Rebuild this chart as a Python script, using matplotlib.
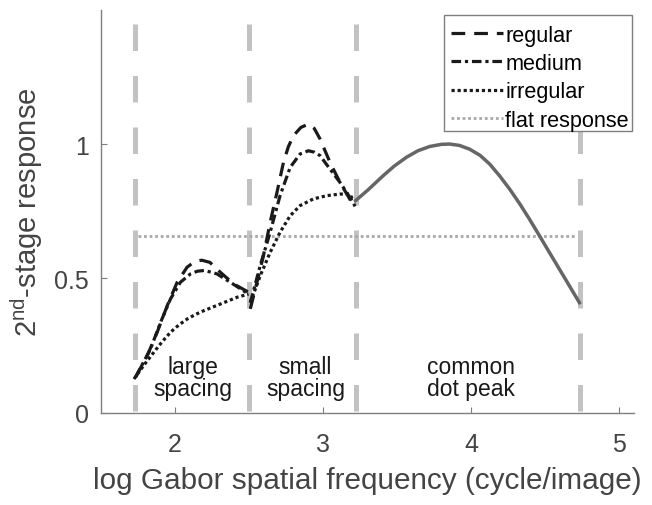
import matplotlib
matplotlib.use('Agg')
import matplotlib.pyplot as plt
from matplotlib.patches import Rectangle

plt.rcParams['font.family'] = ['Liberation Sans', 'DejaVu Sans']
plt.rcParams['mathtext.default'] = 'regular'

# region borders and flat level
border_x = [1.728, 2.499, 3.221, 4.737]
flat_x = [1.748, 4.70]
flat_y = [0.658, 0.658]

# large spacing segment
large_x_reg = [1.733, 1.812, 1.879, 1.947, 2.014, 2.081, 2.13, 2.18, 2.235, 2.306, 2.395, 2.496]
large_y_reg = [0.133, 0.213, 0.300, 0.399, 0.486, 0.542, 0.562, 0.568, 0.560, 0.523, 0.480, 0.449]
large_x_med = [1.733, 1.834, 1.902, 1.969, 2.036, 2.104, 2.15, 2.20, 2.283, 2.373, 2.496]
large_y_med = [0.133, 0.238, 0.337, 0.424, 0.486, 0.517, 0.527, 0.530, 0.517, 0.486, 0.442]
large_x_irr = [1.722, 1.790, 1.857, 1.913, 1.969, 2.025, 2.081, 2.137, 2.193, 2.306, 2.418, 2.496]
large_y_irr = [0.126, 0.178, 0.226, 0.265, 0.300, 0.327, 0.349, 0.366, 0.380, 0.405, 0.430, 0.442]

# small spacing segment
small_x_reg = [2.508, 2.553, 2.597, 2.642, 2.688, 2.732, 2.765, 2.799, 2.85, 2.90, 2.94, 2.979, 3.046, 3.113, 3.193, 3.215]
small_y_reg = [0.387, 0.486, 0.585, 0.709, 0.820, 0.932, 0.990, 1.031, 1.062, 1.074, 1.058, 1.019, 0.932, 0.858, 0.783, 0.771]
small_x_med = [2.508, 2.575, 2.642, 2.709, 2.777, 2.844, 2.90, 2.94, 2.979, 3.046, 3.113, 3.203, 3.215]
small_y_med = [0.410, 0.548, 0.672, 0.808, 0.913, 0.963, 0.975, 0.970, 0.957, 0.907, 0.858, 0.783, 0.768]
small_x_irr = [2.508, 2.575, 2.642, 2.709, 2.777, 2.844, 2.934, 3.024, 3.113, 3.181, 3.203]
small_y_irr = [0.410, 0.510, 0.597, 0.672, 0.733, 0.771, 0.796, 0.808, 0.814, 0.814, 0.789]

# common dot peak
peak_x = [3.22, 3.30, 3.405, 3.48, 3.563, 3.64, 3.72, 3.80, 3.855, 3.92, 3.989, 4.06,
          4.124, 4.19, 4.259, 4.33, 4.393, 4.46, 4.528, 4.59, 4.64, 4.731]
peak_y = [0.790, 0.828, 0.882, 0.918, 0.951, 0.975, 0.991, 0.999, 1.000, 0.995, 0.981, 0.958,
          0.926, 0.883, 0.833, 0.776, 0.721, 0.660, 0.597, 0.540, 0.494, 0.410]

region_labels = ['large\nspacing', 'small\nspacing', 'common\ndot peak']
region_label_x = [2.12, 2.88, 4.0]

dark = '#1a1a1a'
axis_gray = '#7f7f7f'
text_gray = '#444444'

fig = plt.figure(figsize=(6.52, 5.06), dpi=100)
ax = fig.add_axes([0.155, 0.182, 0.8175, 0.797])

for bx in border_x:
    ax.plot([bx, bx], [1.445, 0], color='#c2c2c2', lw=3.6, linestyle=(0, (5.3, 5)), zorder=1)

ax.plot(flat_x, flat_y, color='#a8a8a8', lw=2.0, linestyle=(0, (1, 1)), zorder=2)

ls_reg = (0, (4.3, 2.8))
ls_med = (0, (3, 1.2, 1, 1.2))
ls_irr = (0, (1, 0.9))
lw = 2.3

ax.plot(large_x_reg, large_y_reg, color=dark, lw=lw, linestyle=ls_reg, zorder=3)
ax.plot(large_x_med, large_y_med, color=dark, lw=lw, linestyle=ls_med, zorder=3)
ax.plot(large_x_irr, large_y_irr, color=dark, lw=lw, linestyle=ls_irr, zorder=3)
ax.plot(small_x_reg, small_y_reg, color=dark, lw=lw, linestyle=ls_reg, zorder=3, label='regular')
ax.plot(small_x_med, small_y_med, color=dark, lw=lw, linestyle=ls_med, zorder=3, label='medium')
ax.plot(small_x_irr, small_y_irr, color=dark, lw=lw, linestyle=ls_irr, zorder=3, label='irregular')
ax.plot([], [], color='#a8a8a8', lw=2.0, linestyle=(0, (1, 1)), label='flat response')
ax.plot(peak_x, peak_y, color='#666666', lw=2.5, zorder=3)

for lab, lx in zip(region_labels, region_label_x):
    ax.text(lx, 0.132, lab, ha='center', va='center', fontsize=16.5,
            color=dark, linespacing=0.95)

ax.set_xlim(1.5, 5.1)
ax.set_ylim(0, 1.5)
ax.set_xticks([2, 3, 4, 5])
ax.set_yticks([0, 0.5, 1])
ax.set_yticklabels(['0', '0.5', '1'])
ax.tick_params(direction='in', length=4, width=0.8, colors=axis_gray,
               labelcolor=text_gray, labelsize=18, pad=9)
ax.tick_params(axis='x', pad=14)
for s in ['top', 'right']:
    ax.spines[s].set_visible(False)
for s in ['left', 'bottom']:
    ax.spines[s].set_color(axis_gray)
    ax.spines[s].set_linewidth(1.0)

ax.set_xlabel('log Gabor spatial frequency (cycle/image)', fontsize=21.4, color=text_gray, labelpad=7)
ax.set_ylabel('2$^{nd}$-stage response', fontsize=21, color=text_gray, labelpad=6)

# legend box drawn separately so the entries can sit low in it, as in the original
box = Rectangle((0.6435, 0.700), 0.3527, 0.2876, transform=ax.transAxes,
                facecolor='white', edgecolor=axis_gray, lw=1.0, zorder=4, clip_on=False)
ax.add_patch(box)
leg = ax.legend(loc='upper right', bbox_to_anchor=(0.990, 0.963), borderaxespad=0,
                fontsize=15.6, handlelength=2.4, handletextpad=0.12, labelspacing=0.34,
                borderpad=0, frameon=False)
leg.set_zorder(5)

plt.savefig('out.png', dpi=100)
